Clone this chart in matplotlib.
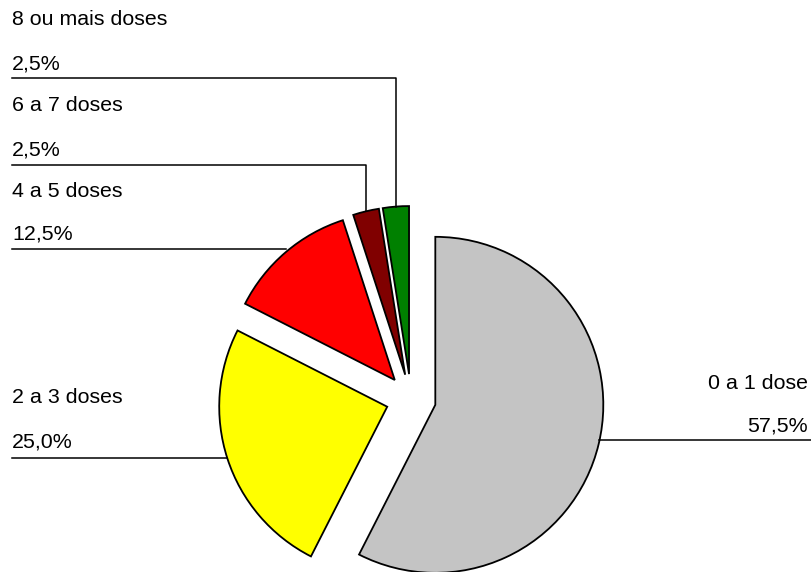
import matplotlib
matplotlib.use("Agg")
import matplotlib.pyplot as plt
import numpy as np

# dose groups, clockwise from 12 o'clock
categories = ["0 a 1 dose", "2 a 3 doses", "4 a 5 doses", "6 a 7 doses", "8 ou mais doses"]
shares = [57.5, 25.0, 12.5, 2.5, 2.5]
colors = ["#c4c4c4", "#ffff00", "#ff0000", "#800000", "#008000"]

W, H = 811, 572
fig = plt.figure(figsize=(W / 100, H / 100), dpi=100)
ax = fig.add_axes([0, 0, 1, 1])

plt.rcParams["font.family"] = ["Liberation Sans", "DejaVu Sans"]

radius = 168
wedges, _ = ax.pie(shares, colors=colors, startangle=90, counterclock=False,
                   center=(411, H - 399), radius=radius, explode=[25] * len(shares),
                   wedgeprops=dict(edgecolor="black", linewidth=1.3),
                   frame=True)
ax.set_xlim(0, W)
ax.set_ylim(0, H)
ax.set_aspect("equal")
ax.axis("off")


def arc_mid(w):
    ang = np.deg2rad((w.theta1 + w.theta2) / 2)
    cx, cy = w.center
    return cx + w.r * np.cos(ang), cy + w.r * np.sin(ang)


def pct(v):
    return f"{v:.1f}".replace(".", ",") + "%"


FS = 15.4
lw = 1.1
# label layout: (text x, name baseline, value baseline, leader y) in pixels from top
layout = {
    0: (808, 389, 431, 440),
    1: (12, 403, 447, 458),
    2: (12, 197, 240, 249),
    3: (12, 111, 155, 165),
    4: (12, 25, 69, 78),
}

for i, w in enumerate(wedges):
    tx, y_name, y_val, y_line = layout[i]
    ha = "right" if i == 0 else "left"
    ax.text(tx, H - y_name, categories[i], ha=ha, va="baseline", fontsize=FS)
    ax.text(tx, H - y_val, pct(shares[i]), ha=ha, va="baseline", fontsize=FS)
    mx, my = arc_mid(w)
    if i == 0:
        ax.plot([mx, W], [H - y_line, H - y_line], color="black", lw=lw)
    elif i in (1, 2):
        ax.plot([tx, mx], [H - y_line, H - y_line], color="black", lw=lw)
    else:
        ax.plot([tx, mx, mx], [H - y_line, H - y_line, my], color="black", lw=lw)

fig.savefig("out.png", dpi=100)
